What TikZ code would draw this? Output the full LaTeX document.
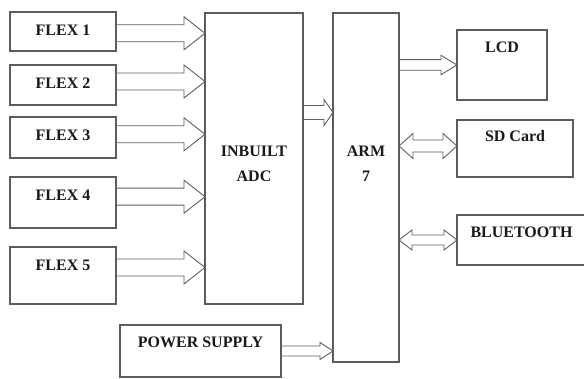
\documentclass[tikz,border=0pt]{standalone}
\usepackage{fontspec}
\setmainfont{Liberation Serif}
\usetikzlibrary{calc}
\definecolor{blkline}{HTML}{5C5C5C}
\definecolor{busline}{HTML}{606060}
\definecolor{blktext}{HTML}{1A1A1A}
\tikzset{
  blk/.style={rectangle, draw=blkline, line width=1.2pt, fill=white,
    anchor=north west, inner sep=0pt, outer sep=0pt},
  txt/.style={font=\fontsize{16}{25}\selectfont\bfseries, text=blktext,
    inner sep=0pt, align=center, anchor=north},
  bus/.style args={#1/#2/#3}{draw=busline, line width=0.9pt, to path={
    let \p1=(\tikztostart), \p2=(\tikztotarget) in
    (\x1,\y1+#1pt) -- (\x2-#3pt,\y1+#1pt) -- (\x2-#3pt,\y1+#2pt) -- (\x2,\y1)
    -- (\x2-#3pt,\y1-#2pt) -- (\x2-#3pt,\y1-#1pt) -- (\x1,\y1-#1pt)}},
  dbus/.style args={#1/#2/#3}{draw=busline, line width=0.9pt, to path={
    let \p1=(\tikztostart), \p2=(\tikztotarget) in
    (\x1,\y1) -- (\x1+#3pt,\y1+#2pt) -- (\x1+#3pt,\y1+#1pt) -- (\x2-#3pt,\y1+#1pt)
    -- (\x2-#3pt,\y1+#2pt) -- (\x2,\y1) -- (\x2-#3pt,\y1-#2pt) -- (\x2-#3pt,\y1-#1pt)
    -- (\x1+#3pt,\y1-#1pt) -- (\x1+#3pt,\y1-#2pt) -- cycle}},
}

\begin{document}
\begin{tikzpicture}[x=1pt, y=-1pt]
\useasboundingbox[fill=white] (0,0) rectangle (584,379);

% ---- sensors
\foreach \i/\boxt/\boxh in {1/12/39, 2/65/40, 3/117/41, 4/177/51, 5/247/57} {
  \node[blk, minimum width=106pt, minimum height=\boxh pt,
    label={[txt, yshift=-12.7pt]north:FLEX \i}] (flex\i) at (10,\boxt) {};
}

% ---- converter and controller
\node[blk, minimum width=98pt, minimum height=291pt,
  label={[txt, yshift=-132.7pt]north:INBUILT\\ADC}] (adc) at (205,13) {};
\node[blk, minimum width=66pt, minimum height=349pt,
  label={[txt, yshift=-132.7pt]north:ARM\\7}] (arm) at (333,13) {};
\node[blk, minimum width=161pt, minimum height=52pt,
  label={[txt, yshift=-11.7pt]north:POWER SUPPLY}] (power) at (120,325) {};

% ---- peripherals
\node[blk, minimum width=90pt, minimum height=70pt,
  label={[txt, yshift=-11.7pt]north:LCD}] (lcd) at (457,30) {};
\node[blk, minimum width=116pt, minimum height=57pt,
  label={[txt, yshift=-10.7pt]north:SD Card}] (sd) at (457,120) {};
\node[blk, minimum width=129pt, minimum height=50pt,
  label={[txt, yshift=-11.7pt]north:BLUETOOTH}] (bt) at (457,215) {};

% ---- buses
\foreach \i/\dy in {1/-1.8, 2/3.5, 3/3.2, 4/5.8, 5/8} {
  \draw[bus=8.5/16.5/21] ([yshift=\dy pt]flex\i.east) to (adc.west);
}
\draw[bus=7/13/9] ([yshift=46pt]adc.east) to (arm.west);
\draw[bus=5/8.5/13] (power.east) to (arm.west);
\draw[bus=5.3/9.7/16] (arm.east |- lcd.west) to (lcd.west);
\draw[dbus=6/12.5/14] ($(arm.east |- sd.west)+(0,-2.5)$) to (sd.west);
\draw[dbus=5/10/13] (arm.east |- bt.west) to (bt.west);

\end{tikzpicture}
\end{document}
